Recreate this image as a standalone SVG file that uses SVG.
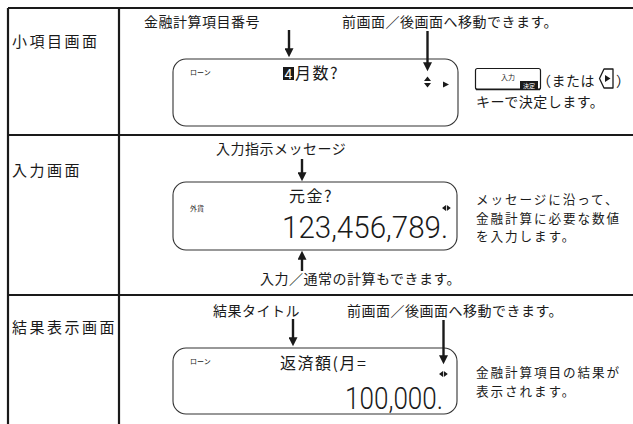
<svg xmlns="http://www.w3.org/2000/svg" width="633" height="424" viewBox="0 0 633 424">
<style>
  .grid { stroke:#1a1a1a; stroke-width:2.2; fill:none; }
  .lcd { stroke:#333; stroke-width:1.1; fill:#fff; }
  .lbl { font-family:"Noto Sans CJK JP","Noto Sans",sans-serif; font-size:15px; letter-spacing:2.5px; fill:#1a1a1a; }
  .note { font-family:"Noto Sans CJK JP","Noto Sans",sans-serif; font-size:14px; letter-spacing:0.5px; fill:#1a1a1a; }
  .side { font-family:"Noto Sans CJK JP","Noto Sans",sans-serif; font-size:12.6px; letter-spacing:1.9px; fill:#1a1a1a; }
  .disp { font-family:"Noto Sans CJK JP","Noto Sans",sans-serif; font-size:16px; letter-spacing:1.5px; fill:#1a1a1a; }
  .tiny { font-family:"Noto Sans CJK JP","Noto Sans",sans-serif; font-size:7px; fill:#1a1a1a; }
  .big { font-family:Roboto,"Liberation Sans",Arial,sans-serif; font-weight:300; font-size:32px; fill:#1a1a1a; }
  .arr { stroke:#1a1a1a; stroke-width:2.4; fill:none; marker-end:url(#ah); }
  .ico { fill:#1a1a1a; }
</style>
<defs>
  <marker id="ah" viewBox="0 0 10 10" refX="3" refY="5" markerWidth="10" markerHeight="9" orient="auto" markerUnits="userSpaceOnUse">
    <path d="M0,0 L10,5 L0,10 z" fill="#1a1a1a"/>
  </marker>
</defs>
<rect width="633" height="424" fill="#fff"/>

<g id="table">
  <line class="grid" x1="8" y1="8" x2="633" y2="8"/>
  <line class="grid" x1="8" y1="8" x2="8" y2="424"/>
  <line class="grid" x1="119" y1="8" x2="119" y2="424"/>
  <line class="grid" x1="8" y1="135" x2="633" y2="135"/>
  <line class="grid" x1="8" y1="295" x2="633" y2="295"/>
</g>

<g id="row1">
  <text class="lbl" x="12" y="47">小項目画面</text>
  <text class="note" x="144" y="27">金融計算項目番号</text>
  <text class="note" x="342" y="27">前画面／後画面へ移動できます。</text>
  <g id="lcd1">
    <rect class="lcd" x="173" y="59" width="285" height="67" rx="13"/>
    <text class="tiny" x="190" y="75">ローン</text>
    <rect x="283" y="67" width="11" height="13" fill="#1a1a1a"/>
    <text x="288.5" y="79" text-anchor="middle" font-family="Liberation Sans,Arial,sans-serif" font-size="14" fill="#fff">4</text>
    <text class="disp" x="295" y="79">月数?</text>
    <path class="ico" d="M424,81 L427.5,76.5 L431,81 Z M424,83 L431,83 L427.5,87.5 Z"/>
    <path class="ico" d="M443,81.5 L449,84.5 L443,87.5 Z"/>
  </g>
  <g id="key1">
    <rect x="475.5" y="68.5" width="65" height="21" rx="2" fill="#fff" stroke="#1a1a1a" stroke-width="1.2"/>
    <line x1="476" y1="89.3" x2="540" y2="89.3" stroke="#1a1a1a" stroke-width="1.8"/>
    <text class="tiny" x="501" y="80" font-size="7">入力</text>
    <rect x="520" y="81" width="18" height="8" fill="#1a1a1a"/>
    <text x="529" y="87.5" text-anchor="middle" font-family="Noto Sans CJK JP,sans-serif" font-size="6" fill="#fff">決定</text>
    <text class="note" x="537" y="86">（または</text>
    <path d="M604,69 H613 V88 H604 L599.5,78.5 Z" fill="#fff" stroke="#1a1a1a" stroke-width="1.3" stroke-linejoin="round"/>
    <path class="ico" d="M605,75 L610.5,78.5 L605,82 Z"/>
    <text class="note" x="616" y="86">）</text>
    <text class="note" x="476" y="107">キーで決定します。</text>
  </g>
</g>

<g id="row2">
  <text class="lbl" x="12" y="176">入力画面</text>
  <text class="note" x="216" y="154">入力指示メッセージ</text>
  <g id="lcd2">
    <rect class="lcd" x="173" y="182" width="284" height="68" rx="13"/>
    <text class="tiny" x="190" y="211">外貨</text>
    <text class="disp" x="289" y="202">元金?</text>
    <path class="ico" d="M446,205 L442,208 L446,211 Z M446.8,205 L450.8,208 L446.8,211 Z"/>
    <text class="big" x="282" y="238" textLength="166" lengthAdjust="spacingAndGlyphs">123,456,789.</text>
  </g>
  <text class="note" x="260" y="284" letter-spacing="0.2">入力／通常の計算もできます。</text>
  <text class="side" x="476" y="204">メッセージに沿って、</text>
  <text class="side" x="476" y="222.5">金融計算に必要な数値</text>
  <text class="side" x="476" y="241">を入力します。</text>
</g>

<g id="row3">
  <text class="lbl" x="12" y="333">結果表示画面</text>
  <text class="note" x="213" y="316">結果タイトル</text>
  <text class="note" x="347" y="316">前画面／後画面へ移動できます。</text>
  <g id="lcd3">
    <rect class="lcd" x="173" y="348" width="284" height="66" rx="13"/>
    <text class="tiny" x="190" y="364">ローン</text>
    <text class="disp" x="280" y="369">返済額(月=</text>
    <path class="ico" d="M443,371 L439,374 L443,377 Z M443.8,371 L447.8,374 L443.8,377 Z"/>
    <text class="big" x="345" y="409" textLength="98" lengthAdjust="spacingAndGlyphs">100,000.</text>
  </g>
  <text class="side" x="476" y="377">金融計算項目の結果が</text>
  <text class="side" x="476" y="395.5">表示されます。</text>
</g>

<g id="connectors">
  <line class="arr" x1="289" y1="30" x2="289" y2="51"/>
  <line class="arr" x1="427.5" y1="31" x2="427.5" y2="65"/>
  <line class="arr" x1="302" y1="159" x2="302" y2="175"/>
  <line class="arr" x1="302" y1="271" x2="302" y2="257"/>
  <line class="arr" x1="293" y1="319" x2="293" y2="340"/>
  <line class="arr" x1="443.5" y1="320" x2="443.5" y2="358"/>
</g>
</svg>
